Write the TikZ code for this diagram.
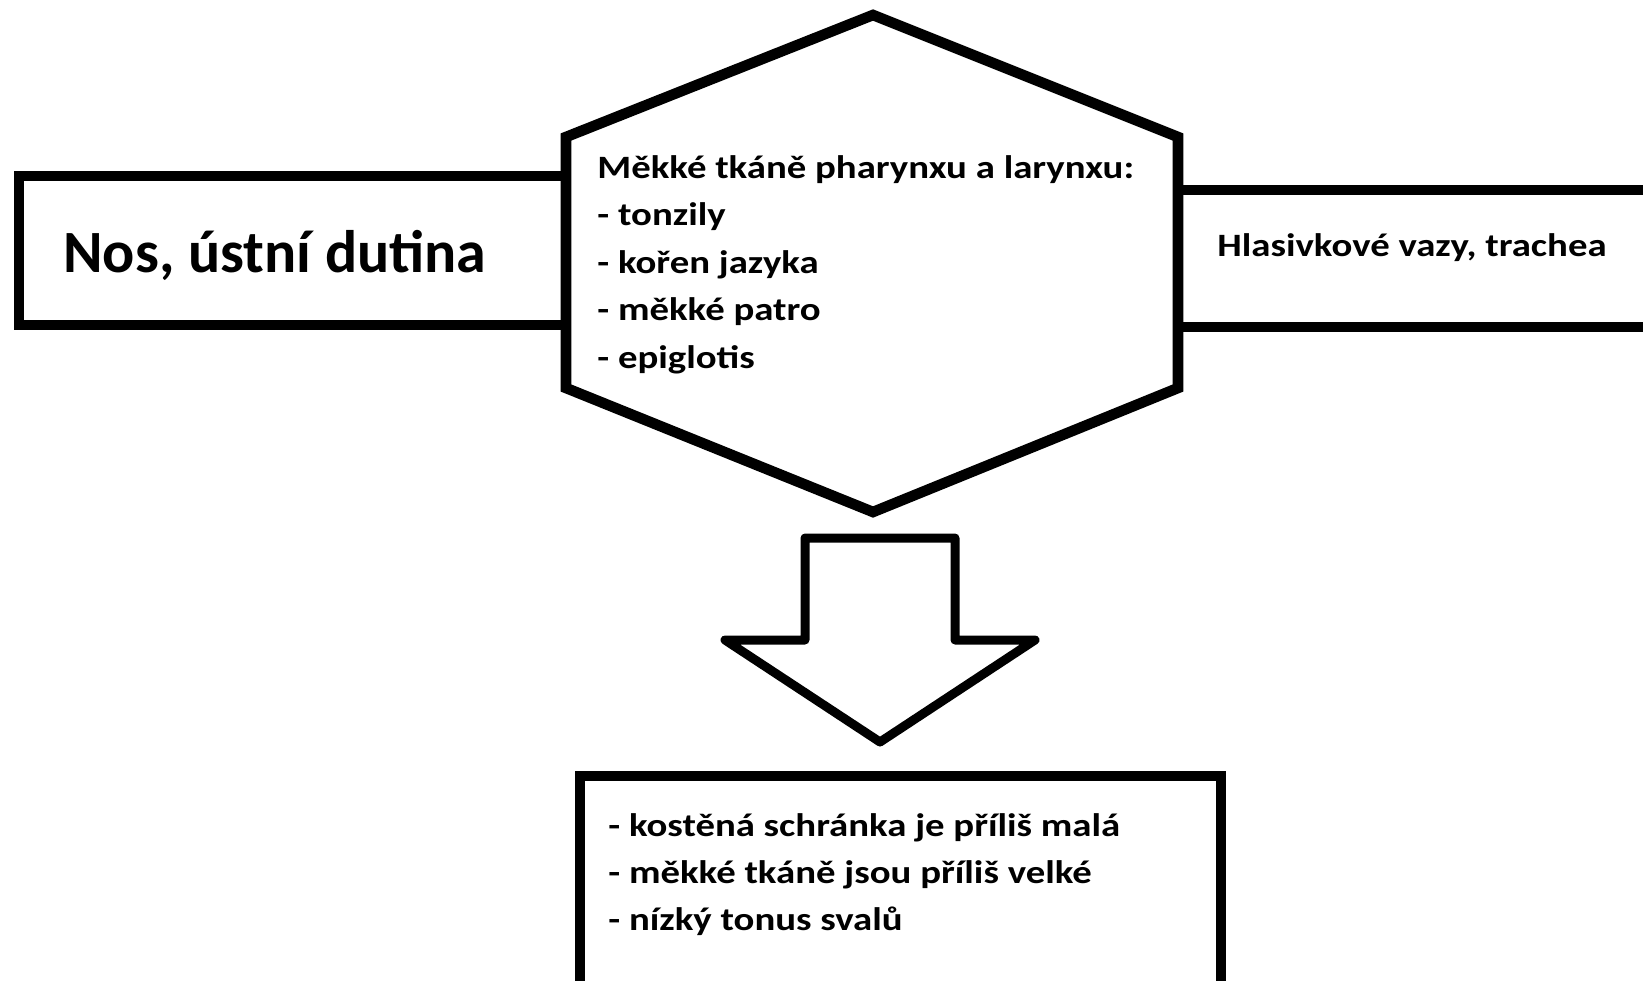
\documentclass[tikz,border=0pt]{standalone}
\usepackage{fontspec}
\setmainfont{Carlito}
\newfontfamily\widefont{Carlito}[FakeStretch=1.19]
\begin{document}
\begin{tikzpicture}[x=0.5pt,y=-0.5pt,
  outl/.style={line width=5.3pt,line join=miter,draw=black},
  arrowl/.style={line width=4.5pt,line join=round,draw=black},
  txt/.style={anchor=base west,inner sep=0pt,font=\widefont\fontsize{16.3}{19}\selectfont\bfseries},
  bigtxt/.style={anchor=base west,inner sep=0pt,font=\fontsize{30}{36}\selectfont\bfseries}]
\useasboundingbox (0,0) rectangle (1643,980);
\clip (0,0) rectangle (1643,980);
\fill[white] (0,0) rectangle (1643,980);
% hexagon corners
\coordinate (hT) at (873,15);
\coordinate (hUL) at (566,137);
\coordinate (hLL) at (566,388);
\coordinate (hB) at (873,512);
\coordinate (hUR) at (1178,137);
\coordinate (hLR) at (1178,388);
% left box
\coordinate (lTR) at (566,176);
\coordinate (lTL) at (19,176);
\coordinate (lBL) at (19,325);
\coordinate (lBR) at (566,325);
\draw[outl] (lTR) -- (lTL) -- (lBL) -- (lBR);
% right box
\coordinate (rTL) at (1178,190);
\coordinate (rTR) at (1660,190);
\coordinate (rBL) at (1178,327);
\coordinate (rBR) at (1660,327);
\draw[outl] (rTL) -- (rTR) (rBL) -- (rBR);
% hexagon
\draw[outl] (hT) -- (hUR) -- (hLR) -- (hB) -- (hLL) -- (hUL) -- cycle;
% down arrow
\coordinate (a1) at (805,538);
\coordinate (a2) at (805,640);
\coordinate (a3) at (725,640);
\coordinate (a4) at (880,742);
\coordinate (a5) at (1035,640);
\coordinate (a6) at (955,640);
\coordinate (a7) at (955,538);
\draw[arrowl] (a1) -- (a2) -- (a3) -- (a4) -- (a5) -- (a6) -- (a7) -- cycle;
% bottom box
\coordinate (bBL) at (580,1010);
\coordinate (bTL) at (580,776);
\coordinate (bTR) at (1221,776);
\coordinate (bBR) at (1221,1010);
\draw[outl] (bBL) -- (bTL) -- (bTR) -- (bBR);
% texts
\node[bigtxt] (nos) at (63,272) {Nos, ústní dutina};
\node[txt] (h1) at (597,178) {Měkké tkáně pharynxu a larynxu:};
\node[txt] (h2) at (597,225.5) {- tonzily};
\node[txt] (h3) at (597,273) {- kořen jazyka};
\node[txt] (h4) at (597,320.5) {- měkké patro};
\node[txt] (h5) at (597,368) {- epiglotis};
\node[txt] (hl) at (1217,256) {Hlasivkové vazy, trachea};
\node[txt] (b1) at (608,836) {- kostěná schránka je příliš malá};
\node[txt] (b2) at (608,883) {- měkké tkáně jsou příliš velké};
\node[txt] (b3) at (608,930) {- nízký tonus svalů};
\end{tikzpicture}
\end{document}
